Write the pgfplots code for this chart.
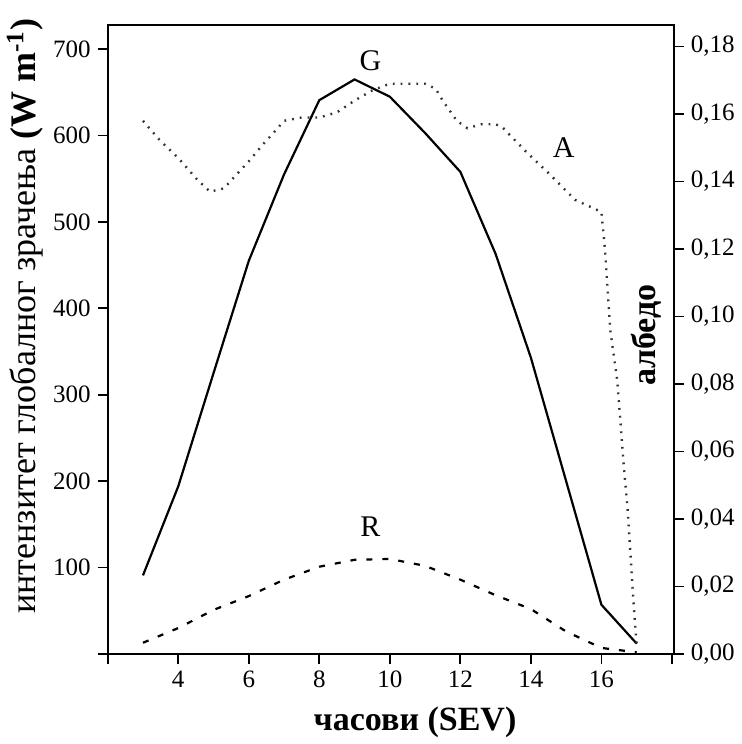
\documentclass[border=0pt]{standalone}
\usepackage{fontspec}
\setmainfont{Liberation Serif}
\usepackage{pgfplots}
\pgfplotsset{compat=1.18}

\pgfplotstableread{
x G R
3 91 13
4 194 30
5 325 51
6 455 67
7 555 86
8 641 101
9 665 109
10 645 110
11 603 102
12 558 86
13 463 68
14 343 52
15 200 26
16 57 7
17 12 2
}\radiation

\pgfplotstableread{
x A
3 0.158
3.5 0.152
4 0.147
4.5 0.141
4.9 0.137
5.3 0.138
5.6 0.1415
6 0.146
6.4 0.151
6.75 0.155
7 0.158
7.5 0.159
8 0.159
8.5 0.1605
9 0.164
9.5 0.167
10 0.169
11 0.169
11.3 0.1675
11.5 0.164
11.9 0.158
12.2 0.1558
12.6 0.157
13 0.157
13.2 0.156
13.85 0.149
14.5 0.1425
15.25 0.1346
16 0.131
16.1 0.12
16.25 0.096
16.45 0.081
16.64 0.055
16.75 0.042
16.88 0.020
16.97 0.0065
17 0.003
}\albedo

\begin{document}
\begin{tikzpicture}
\pgfplotsset{
  common/.style={
    scale only axis, width=283pt, height=314.5pt,
    xmin=2, xmax=18.05,
    tick align=outside, major tick length=5pt,
    tick style={line width=0.9pt, black},
    axis line style={line width=1.2pt},
    tick label style={font=\fontsize{12.5}{14}\selectfont},
    /pgf/number format/assume math mode=true,
  }
}
\begin{axis}[
  common,
  ymin=0, ymax=728,
  xtick={2,4,...,18}, xticklabels={,4,6,8,10,12,14,16,},
  ytick={0,100,...,700}, yticklabels={,100,200,300,400,500,600,700},
  xtick pos=bottom, ytick pos=left,
  xlabel={\textbf{часови (SEV)}},
  ylabel={интензитет глобалног зрачења \textbf{(W m\textsuperscript{-1})}},
  xlabel style={font=\fontsize{17}{20}\selectfont, at={(axis description cs:0.543,-0.108)}, anchor=center},
  ylabel style={font=\fontsize{18}{21}\selectfont, at={(axis description cs:-0.146,0.537)}, anchor=center, rotate=0},
]
\addplot[black, line width=1.1pt] table[x=x, y=G] {\radiation};
\addplot[black, line width=1.1pt, dash pattern=on 3pt off 5pt] table[x=x, y=R] {\radiation};
\node[font=\fontsize{15}{18}\selectfont] at (axis cs:9.45,687) {G};
\node[font=\fontsize{15}{18}\selectfont] at (axis cs:14.93,586) {A};
\node[font=\fontsize{15}{18}\selectfont] at (axis cs:9.45,147) {R};
\node[font=\bfseries\fontsize{17}{20}\selectfont, rotate=90] at (rel axis cs:0.951,0.507) {албедо};
\end{axis}
\begin{axis}[
  common,
  ymin=0, ymax=0.1864,
  axis x line=none, axis y line*=right,
  ytick={0,0.02,0.04,0.06,0.08,0.10,0.12,0.14,0.16,0.18},
  scaled y ticks=false,
  yticklabel style={/pgf/number format/.cd, fixed, fixed zerofill, precision=2, use comma},
]
\addplot[black!80, line width=1.2pt, dash pattern=on 0.9pt off 3pt] table[x=x, y=A] {\albedo};
\end{axis}
% top margin as in the reference
\path (current axis.north) ++(0,12.5pt);
\end{tikzpicture}
\end{document}
